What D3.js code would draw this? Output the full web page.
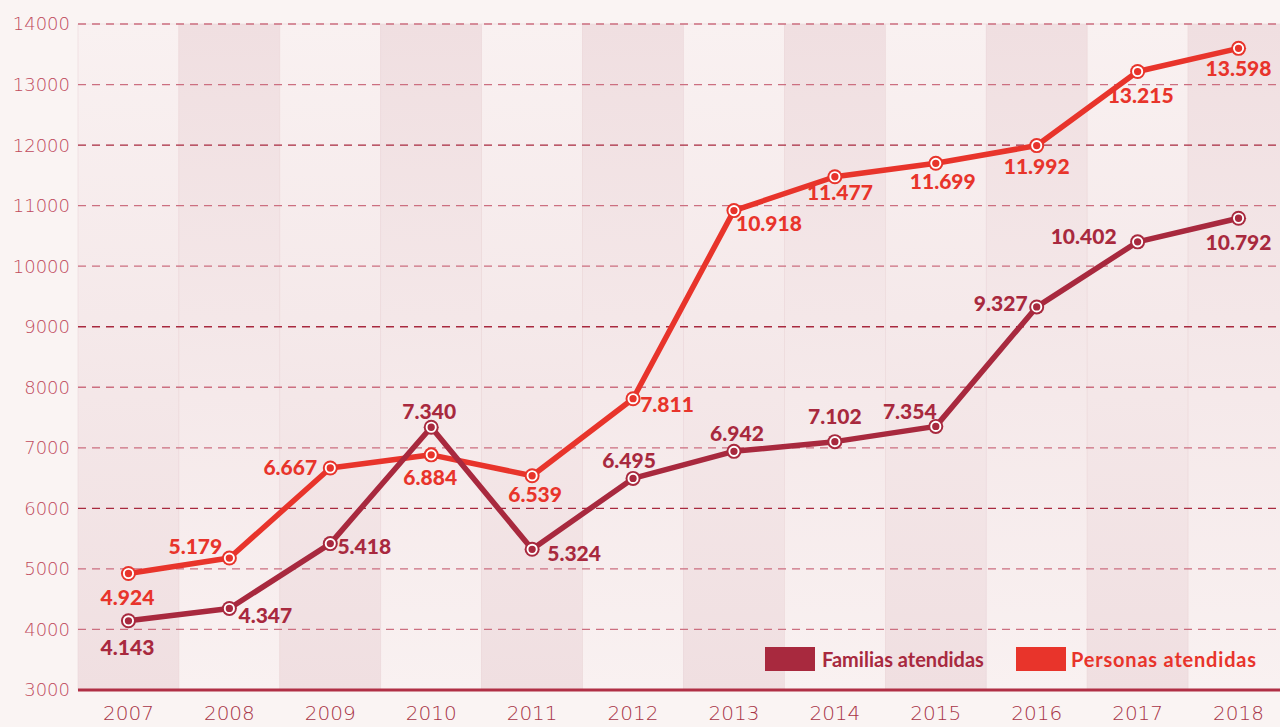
<!DOCTYPE html>
<html>
<head>
<meta charset="utf-8">
<script src="https://cdn.jsdelivr.net/npm/d3@7"></script>
<style>
  body { margin: 0; background: #faf4f3; }
  svg { display: block; }
</style>
</head>
<body>
<svg id="chart" width="1280" height="727"></svg>
<script>
// datos
var years = ["2007","2008","2009","2010","2011","2012","2013","2014","2015","2016","2017","2018"];
var familias = [4143, 4347, 5418, 7340, 5324, 6495, 6942, 7102, 7354, 9327, 10402, 10792];
var personas = [4924, 5179, 6667, 6884, 6539, 7811, 10918, 11477, 11699, 11992, 13215, 13598];
var yTicks = [3000, 4000, 5000, 6000, 7000, 8000, 9000, 10000, 11000, 12000, 13000, 14000];
var seriesNames = ["Familias atendidas", "Personas atendidas"];

// label offsets from each point (label centre), hand placed like the original
var famLabelPos = [[-1,27],[36,7],[34,3],[-2,-16],[42,4],[-4,-18],[3,-18],[0,-25],[-26,-15],[-36,-3],[-54,-5],[0,24]];
var perLabelPos = [[-1,24],[-34,-12],[-40,-1],[-1,23],[3,19],[34,6],[35,13],[5,16],[7,18],[0,21],[3,24],[0,20]];

var colFam = "#a8293e", colPer = "#e8342b";

var svg = d3.select("#chart");
var margins = {top: 24, left: 78, right: 1289, bottom: 690};

var x = d3.scaleBand().domain(years).range([margins.left, margins.right]).padding(0);
var y = d3.scaleLinear().domain([3000, 14000]).range([margins.bottom, margins.top]);

var defs = svg.append("defs");
function grad(id, top, bottom) {
  var g = defs.append("linearGradient").attr("id", id)
    .attr("x1", 0).attr("y1", 0).attr("x2", 0).attr("y2", 1);
  g.append("stop").attr("offset", "0%").attr("stop-color", top);
  g.append("stop").attr("offset", "100%").attr("stop-color", bottom);
}
grad("bandA", "#f9f1f1", "#f0dfe1");
grad("bandB", "#f0dfe1", "#f9f1f1");

svg.append("g").selectAll("rect")
  .data(years)
  .enter().append("rect")
    .attr("x", function(d) { return x(d); })
    .attr("y", y(14000))
    .attr("width", x.bandwidth())
    .attr("height", y(3000) - y(14000))
    .attr("fill", function(d, i) { return i % 2 ? "url(#bandB)" : "url(#bandA)"; })
    .attr("stroke", "#ecd8da")
    .attr("stroke-width", 0.6);

// grid
svg.append("g").selectAll("line")
  .data(yTicks.filter(function(t) { return t > 3000; }))
  .enter().append("line")
    .attr("x1", margins.left).attr("x2", 1280)
    .attr("y1", function(d) { return y(d); })
    .attr("y2", function(d) { return y(d); })
    .attr("stroke", function(d) { return d % 3000 === 0 ? "#a8293e" : "#cc6f80"; })
    .attr("stroke-width", 1.3)
    .attr("stroke-dasharray", "8,6");

svg.append("line")
  .attr("x1", margins.left).attr("x2", 1280)
  .attr("y1", y(3000)).attr("y2", y(3000))
  .attr("stroke", "#b02f45").attr("stroke-width", 3);

// y labels
svg.append("g").selectAll("text")
  .data(yTicks)
  .enter().append("text")
    .attr("x", 70)
    .attr("y", function(d) { return y(d); })
    .attr("dy", "0.36em")
    .attr("text-anchor", "end")
    .attr("font-family", "DejaVu Sans")
    .attr("font-weight", 200)
    .attr("font-size", 18)
    .attr("fill", "#c04a5c")
    .text(function(d) { return d; });

// x labels
svg.append("g").selectAll("text")
  .data(years)
  .enter().append("text")
    .attr("x", function(d) { return x(d) + x.bandwidth() / 2; })
    .attr("y", 713)
    .attr("dy", "0.36em")
    .attr("text-anchor", "middle")
    .attr("font-family", "DejaVu Sans")
    .attr("font-weight", 200)
    .attr("font-size", 20)
    .attr("fill", "#a83346")
    .text(function(d) { return d; });

var fmt = function(v) { return d3.format(",")(v).replace(",", "."); };

function drawSeries(values, color, labelPos) {
  var pts = values.map(function(v, i) { return {year: years[i], v: v, off: labelPos[i]}; });
  var cx = function(d) { return x(d.year) + x.bandwidth() / 2; };
  var line = d3.line().x(cx).y(function(d) { return y(d.v); });

  svg.append("path")
    .datum(pts)
    .attr("d", line)
    .attr("fill", "none")
    .attr("stroke", color)
    .attr("stroke-width", 5.5)
    .attr("stroke-linejoin", "round");

  var g = svg.append("g");
  g.selectAll(".outer").data(pts).enter().append("circle")
    .attr("cx", cx).attr("cy", function(d) { return y(d.v); })
    .attr("r", 7.5).attr("fill", color);
  g.selectAll(".inner").data(pts).enter().append("circle")
    .attr("cx", cx).attr("cy", function(d) { return y(d.v); })
    .attr("r", 4.6).attr("fill", color)
    .attr("stroke", "#fff").attr("stroke-width", 1.9);

  g.selectAll("text").data(pts).enter().append("text")
    .attr("x", function(d) { return cx(d) + d.off[0]; })
    .attr("y", function(d) { return y(d.v) + d.off[1]; })
    .attr("dy", "0.36em")
    .attr("text-anchor", "middle")
    .attr("font-family", "Lato")
    .attr("font-weight", 900)
    .attr("font-size", 21)
    .attr("fill", color)
    .text(function(d) { return fmt(d.v); });
}

drawSeries(personas, colPer, perLabelPos);
drawSeries(familias, colFam, famLabelPos);

// legend
var legend = svg.append("g").selectAll("g")
  .data(seriesNames)
  .enter().append("g")
    .attr("transform", function(d, i) { return "translate(" + (765 + i * 251) + ",647)"; });
legend.append("rect")
  .attr("width", 50).attr("height", 24)
  .attr("fill", function(d, i) { return i ? colPer : colFam; });
legend.append("text")
  .attr("x", function(d, i) { return i ? 55 : 57; })
  .attr("y", 13)
  .attr("dy", "0.36em")
  .attr("font-family", "Lato")
  .attr("font-weight", 700)
  .attr("font-size", 20)
  .attr("letter-spacing", function(d, i) { return i ? 0.8 : 0; })
  .attr("fill", function(d, i) { return i ? colPer : colFam; })
  .text(function(d) { return d; });
</script>
</body>
</html>
